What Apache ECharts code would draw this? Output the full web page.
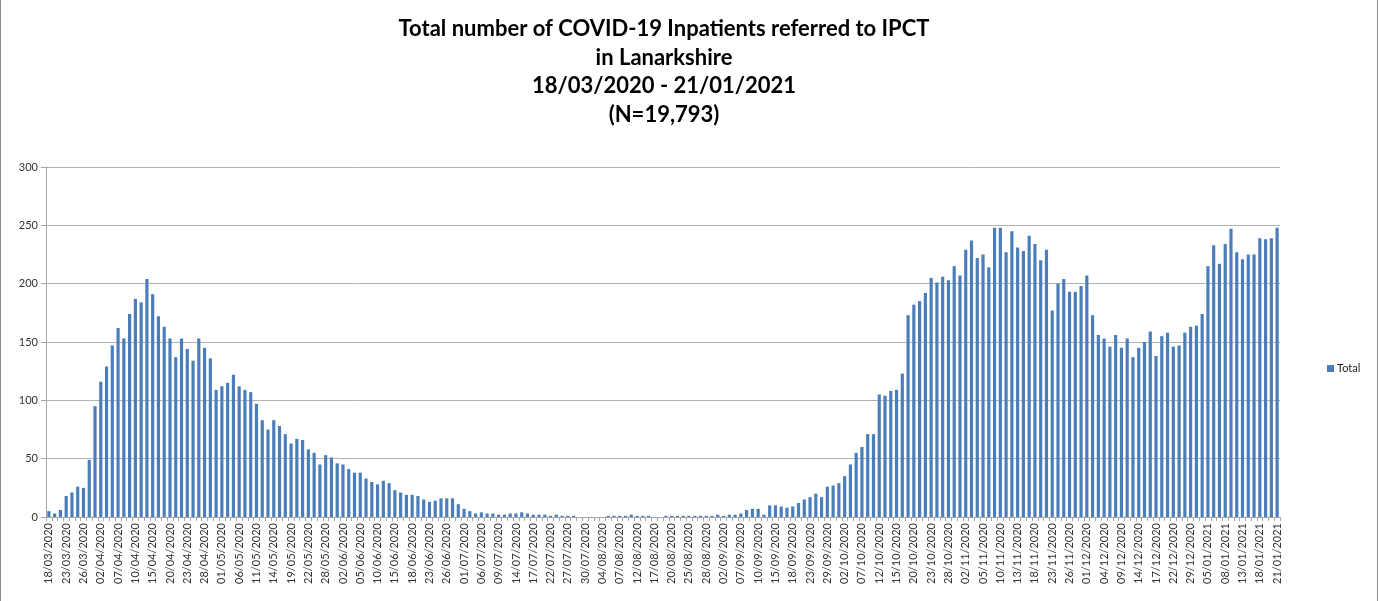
<!DOCTYPE html>
<html>
<head>
<meta charset="utf-8">
<script src="https://cdn.jsdelivr.net/npm/echarts@6/dist/echarts.min.js"></script>
<style>
  html, body { margin: 0; padding: 0; background: #fff; }
  #chart { width: 1376px; height: 601px; border-left: 1px solid #8c8c8c; border-right: 1px solid #8c8c8c; }
</style>
</head>
<body>
<div id="chart"></div>
<script>
// referral dates (working days only)
const dates = [
  '18/03/2020','19/03/2020','20/03/2020','23/03/2020','24/03/2020','25/03/2020','26/03/2020','30/03/2020','01/04/2020',
  '02/04/2020','03/04/2020','06/04/2020','07/04/2020','08/04/2020','09/04/2020','10/04/2020','13/04/2020','14/04/2020',
  '15/04/2020','16/04/2020','17/04/2020','20/04/2020','21/04/2020','22/04/2020','23/04/2020','24/04/2020','27/04/2020',
  '28/04/2020','29/04/2020','30/04/2020',
  '01/05/2020','04/05/2020','05/05/2020','06/05/2020','07/05/2020','08/05/2020','11/05/2020','12/05/2020','13/05/2020',
  '14/05/2020','15/05/2020','18/05/2020','19/05/2020','20/05/2020','21/05/2020','22/05/2020','26/05/2020','27/05/2020',
  '28/05/2020','29/05/2020',
  '01/06/2020','02/06/2020','03/06/2020','04/06/2020','05/06/2020','08/06/2020','09/06/2020','10/06/2020','11/06/2020',
  '12/06/2020','15/06/2020','16/06/2020','17/06/2020','18/06/2020','19/06/2020','22/06/2020','23/06/2020','24/06/2020',
  '25/06/2020','26/06/2020','29/06/2020','30/06/2020',
  '01/07/2020','02/07/2020','03/07/2020','06/07/2020','07/07/2020','08/07/2020','09/07/2020','10/07/2020','13/07/2020',
  '14/07/2020','15/07/2020','16/07/2020','17/07/2020','20/07/2020','21/07/2020','22/07/2020','23/07/2020','24/07/2020',
  '27/07/2020','28/07/2020','29/07/2020','30/07/2020','31/07/2020',
  '03/08/2020','04/08/2020','05/08/2020','06/08/2020','07/08/2020','10/08/2020','11/08/2020','12/08/2020','13/08/2020',
  '14/08/2020','17/08/2020','18/08/2020','19/08/2020','20/08/2020','21/08/2020','24/08/2020','25/08/2020','26/08/2020',
  '27/08/2020','28/08/2020','31/08/2020',
  '01/09/2020','02/09/2020','03/09/2020','04/09/2020','07/09/2020','08/09/2020','09/09/2020','10/09/2020','11/09/2020',
  '14/09/2020','15/09/2020','16/09/2020','17/09/2020','18/09/2020','21/09/2020','22/09/2020','23/09/2020','24/09/2020',
  '25/09/2020','29/09/2020','30/09/2020',
  '01/10/2020','02/10/2020','05/10/2020','06/10/2020','07/10/2020','08/10/2020','09/10/2020','12/10/2020','13/10/2020',
  '14/10/2020','15/10/2020','16/10/2020','19/10/2020','20/10/2020','21/10/2020','22/10/2020','23/10/2020','26/10/2020',
  '27/10/2020','28/10/2020','29/10/2020','30/10/2020',
  '02/11/2020','03/11/2020','04/11/2020','05/11/2020','06/11/2020','09/11/2020','10/11/2020','11/11/2020','12/11/2020',
  '13/11/2020','16/11/2020','17/11/2020','18/11/2020','19/11/2020','20/11/2020','23/11/2020','24/11/2020','25/11/2020',
  '26/11/2020','27/11/2020','30/11/2020',
  '01/12/2020','02/12/2020','03/12/2020','04/12/2020','07/12/2020','08/12/2020','09/12/2020','10/12/2020','11/12/2020',
  '14/12/2020','15/12/2020','16/12/2020','17/12/2020','18/12/2020','21/12/2020','22/12/2020','23/12/2020','24/12/2020',
  '29/12/2020','30/12/2020','31/12/2020',
  '05/01/2021','06/01/2021','07/01/2021','08/01/2021','11/01/2021','12/01/2021','13/01/2021','14/01/2021','15/01/2021',
  '18/01/2021','19/01/2021','20/01/2021','21/01/2021'
];

// inpatients referred per day
const totals = [
  5, 3, 6, 18, 21, 26, 25, 49, 95, 116,
  129, 147, 162, 153, 174, 187, 184, 204, 191, 172,
  163, 153, 137, 153, 144, 134, 153, 145, 136, 109,
  112, 115, 122, 112, 109, 107, 97, 83, 75, 83,
  78, 71, 63, 67, 66, 58, 55, 45, 53, 51,
  46, 45, 41, 38, 38, 33, 30, 28, 31, 29,
  23, 21, 19, 19, 18, 15, 13, 14, 16, 16,
  16, 11, 7, 5, 3, 4, 3, 3, 2, 2,
  3, 3, 4, 3, 2, 2, 2, 1, 2, 1,
  1, 1, 0, 0, 0, 0, 0, 1, 1, 1,
  1, 2, 1, 1, 1, 0, 0, 1, 1, 1,
  1, 1, 1, 1, 1, 1, 2, 1, 2, 2,
  3, 6, 7, 7, 2, 10, 10, 9, 8, 9,
  12, 15, 17, 20, 17, 26, 27, 29, 35, 45,
  55, 60, 71, 71, 105, 104, 108, 109, 123, 173,
  182, 185, 192, 205, 201, 206, 203, 215, 207, 229,
  237, 222, 225, 214, 248, 248, 227, 245, 231, 228,
  241, 234, 220, 229, 177, 200, 204, 193, 193, 198,
  207, 173, 156, 153, 146, 156, 145, 153, 137, 145,
  150, 159, 138, 155, 158, 146, 147, 158, 163, 164,
  174, 215, 233, 217, 234, 247, 227, 221, 225, 225,
  239, 238, 239, 248
];

const titleLines = [
  'Total number of COVID-19 Inpatients referred to IPCT',
  'in Lanarkshire',
  '18/03/2020 - 21/01/2021',
  '(N=19,793)'
];

const chart = echarts.init(document.getElementById('chart'));

const option = {
  animation: false,
  textStyle: { fontFamily: 'Lato, "Open Sans", sans-serif' },
  title: {
    text: titleLines.join('\n'),
    left: 658,
    top: 10,
    textAlign: 'center',
    textStyle: {
      fontFamily: 'Lato, "Open Sans", sans-serif',
      fontSize: 22,
      fontWeight: 'bold',
      lineHeight: 28.5,
      color: '#000'
    }
  },
  legend: {
    data: ['Total'],
    left: 1321,
    top: 358,
    icon: 'rect',
    itemWidth: 7,
    itemHeight: 7,
    itemGap: 4,
    textStyle: { fontSize: 11, color: '#222', padding: [0, 0, 0, -2] }
  },
  grid: {
    left: 45,
    right: 97,
    top: 167,
    bottom: 84
  },
  xAxis: {
    type: 'category',
    data: dates,
    boundaryGap: true,
    axisLine: { lineStyle: { color: '#a6a6a6' } },
    axisTick: { show: true, interval: 0, length: 4, lineStyle: { color: '#a6a6a6' } },
    axisLabel: {
      interval: 2,
      rotate: 90,
      margin: 6,
      fontSize: 11,
      color: '#333'
    }
  },
  yAxis: {
    type: 'value',
    min: 0,
    max: 300,
    interval: 50,
    axisLine: { show: true, lineStyle: { color: '#a6a6a6' } },
    axisTick: { show: true, length: 5, lineStyle: { color: '#a6a6a6' } },
    axisLabel: { margin: 8, fontSize: 11, color: '#333' },
    splitLine: { lineStyle: { color: '#b3b3b3', width: 1 } }
  },
  series: [
    {
      name: 'Total',
      type: 'bar',
      data: totals,
      barCategoryGap: '45%',
      itemStyle: { color: '#4a7ebb' }
    }
  ]
};

chart.setOption(option);
</script>
</body>
</html>
